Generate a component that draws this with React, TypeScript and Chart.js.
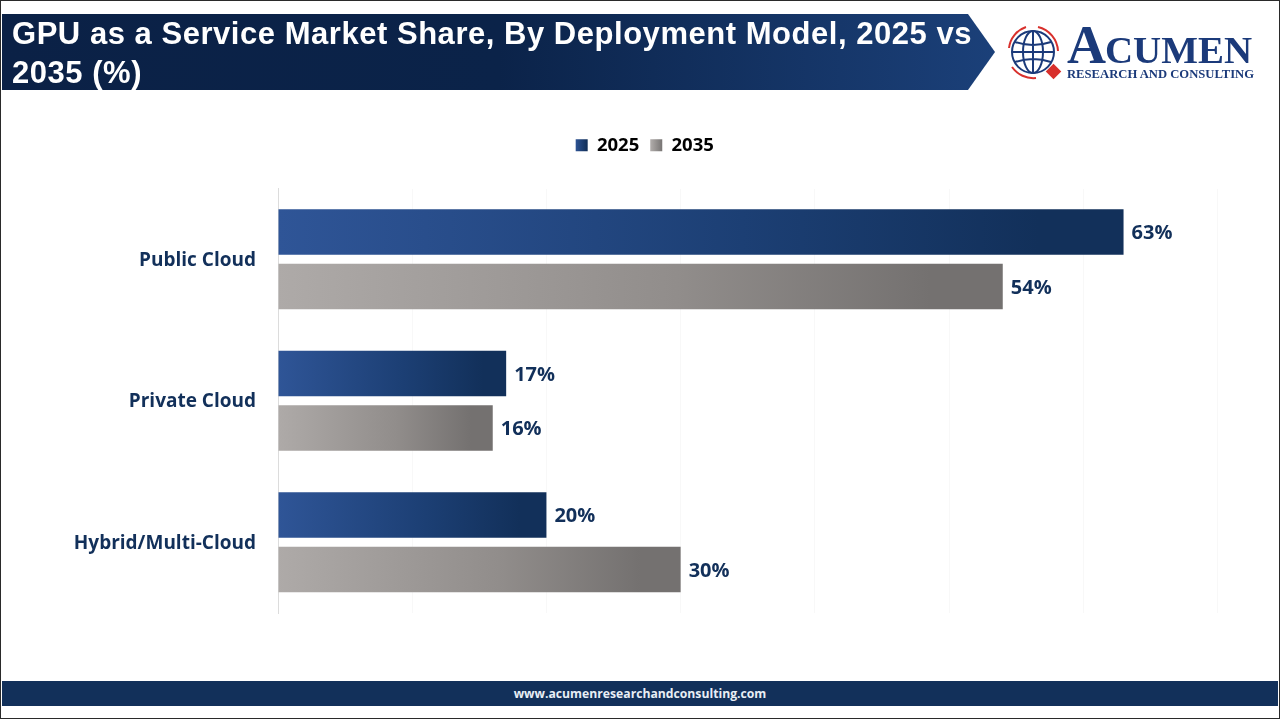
import React, { useEffect, useRef } from "react";
import { Chart, registerables } from "chart.js";

Chart.register(...registerables);

const categories = ["Public Cloud", "Private Cloud", "Hybrid/Multi-Cloud"];
const values2025 = [63, 17, 20];
const values2035 = [54, 16, 30];
const seriesNames = ["2025", "2035"];
const blueStops = ["#2f5597", "#1c3f74", "#12305a"];
const grayStops = ["#aeaaa8", "#918d8b", "#747170"];
const axisTicks = 10;
const axisMax = 70;
const titleText = "GPU as a Service Market Share, By Deployment Model, 2025 vs 2035 (%)";
const footerText = "www.acumenresearchandconsulting.com";
const swatchLeft = [575, 651];
const swatchSize = 12;

const navy = "#12305a";
const FONT = '"Open Sans", sans-serif';

function makeFill(stops: string[]) {
  return (c: any) => {
    const x = c.chart.scales?.x;
    if (!x || typeof c.raw !== "number") return stops[2];
    const g = c.chart.ctx.createLinearGradient(x.getPixelForValue(0), 0, x.getPixelForValue(c.raw), 0);
    g.addColorStop(0, stops[0]);
    g.addColorStop(0.55, stops[1]);
    g.addColorStop(0.9, stops[2]);
    g.addColorStop(1, stops[2]);
    return g;
  };
}

const valueLabels = {
  id: "valueLabels",
  afterDatasetsDraw(chart: any) {
    const { ctx } = chart;
    ctx.save();
    ctx.font = `700 20px ${FONT}`;
    ctx.fillStyle = navy;
    ctx.textBaseline = "middle";
    ctx.textAlign = "left";
    chart.data.datasets.forEach((ds: any, i: number) => {
      chart.getDatasetMeta(i).data.forEach((bar: any, j: number) => {
        ctx.fillText(`${ds.data[j]}%`, bar.x + 8, bar.y + 1.5);
      });
    });
    ctx.restore();
  },
};

function Logo() {
  const blue = "#1b3a7a";
  const red = "#d8302c";
  return (
    <svg width={270} height={80} viewBox="0 0 270 80" style={{ position: "absolute", left: 1000, top: 14 }}>
      <g transform="translate(33 38)" fill="none" stroke={blue} strokeWidth={2}>
        <circle r={21} />
        <ellipse rx={10} ry={21} />
        <path d="M0 -21V21M-21 0H21M-18 -10Q0 -4 18 -10M-18 10Q0 4 18 10" />
      </g>
      <g fill="none" stroke={red} strokeWidth={2}>
        <path d="M9 34A25 25 0 0 1 26 13" />
        <path d="M38 13A26 26 0 0 1 58 37" />
        <path d="M12 53A26 26 0 0 0 36 64" />
      </g>
      <rect x={48} y={52} width={11} height={11} fill={red} transform="rotate(45 53.5 57.5)" />
      <text x={67} y={49} fontFamily="Liberation Serif" fontWeight={700} fontSize={54} fill={blue}>A</text>
      <text x={105} y={49} fontFamily="Liberation Serif" fontWeight={700} fontSize={37} fill={blue} textLength={147} lengthAdjust="spacingAndGlyphs">CUMEN</text>
      <text x={67} y={64} fontFamily="Liberation Serif" fontWeight={700} fontSize={12.5} fill={blue} textLength={187} lengthAdjust="spacingAndGlyphs">RESEARCH AND CONSULTING</text>
    </svg>
  );
}

export default function App() {
  const ref = useRef<HTMLCanvasElement>(null);

  useEffect(() => {
    document.body.style.margin = "0";
    document.body.style.background = "#fff";
    const chart = new Chart(ref.current as HTMLCanvasElement, {
      type: "bar",
      data: {
        labels: categories,
        datasets: [
          { label: seriesNames[0], data: values2025, backgroundColor: makeFill(blueStops) as any, categoryPercentage: 0.77, barPercentage: 0.835 },
          { label: seriesNames[1], data: values2035, backgroundColor: makeFill(grayStops) as any, categoryPercentage: 0.77, barPercentage: 0.835 },
        ],
      },
      plugins: [valueLabels],
      options: {
        indexAxis: "y",
        animation: false,
        responsive: false,
        devicePixelRatio: 1,
        layout: { padding: { top: 125, left: 72, right: 62.5, bottom: 107 } },
        plugins: {
          tooltip: { enabled: false },
          legend: {
            display: true,
            position: "top",
            labels: {
              boxWidth: swatchSize,
              boxHeight: swatchSize,
              padding: 11,
              color: "#111",
              font: { family: FONT, weight: "bold", size: 18.5 },
              generateLabels(c: any) {
                const stops = [blueStops, grayStops];
                return c.data.datasets.map((ds: any, i: number) => {
                  const g = c.ctx.createLinearGradient(swatchLeft[i], 0, swatchLeft[i] + swatchSize, 0);
                  g.addColorStop(0, stops[i][0]);
                  g.addColorStop(1, stops[i][2]);
                  return { text: ds.label, fillStyle: g, strokeStyle: "transparent", lineWidth: 0, datasetIndex: i, hidden: false };
                });
              },
            },
          },
        },
        scales: {
          x: {
            position: "top",
            min: 0,
            max: axisMax,
            ticks: { stepSize: axisTicks, display: false },
            grid: { color: "#f8f8f8", lineWidth: 1, tickLength: 0, drawTicks: false },
            border: { display: false },
            afterFit(s: any) { s.height = 24; },
          },
          y: {
            grid: { display: false, drawTicks: false },
            border: { display: true, color: "#dcdcdc", width: 1 },
            ticks: {
              color: navy,
              padding: 22,
              labelOffset: 1,
              font: { family: FONT, weight: "bold", size: 19 },
            },
            afterFit(s: any) { s.width = 206; },
          },
        },
      } as any,
    });
    return () => chart.destroy();
  }, []);

  return (
    <div style={{ position: "relative", width: 1280, height: 720, overflow: "hidden", background: "#fff" }}>
      <canvas ref={ref} width={1280} height={720} style={{ position: "absolute", left: 0, top: 0, display: "block" }} />
      <div style={{ position: "absolute", left: 0, top: 0, width: 1278, height: 717, border: "1px solid #2a2a2a" }} />
      <svg width={1000} height={80} style={{ position: "absolute", left: 0, top: 10 }}>
        <defs>
          <linearGradient id="banner" x1="0" x2="1" y1="0" y2="0">
            <stop offset="0" stopColor="#0b2146" />
            <stop offset="0.5" stopColor="#0b2349" />
            <stop offset="1" stopColor="#1b4079" />
          </linearGradient>
        </defs>
        <polygon points="2,4 968,4 995,42 968,80 2,80" fill="url(#banner)" />
      </svg>
      <div style={{ position: "absolute", left: 12, top: 14, width: 975, color: "#fff", letterSpacing: 0.53, font: '700 31px/39px "Liberation Sans", Arial, sans-serif' }}>
        {titleText}
      </div>
      <Logo />
      <div style={{ position: "absolute", left: 2, top: 681, width: 1276, height: 25, background: navy, color: "#e8eef5", textAlign: "center", font: `700 12.2px/25px ${FONT}` }}>
        {footerText}
      </div>
    </div>
  );
}
